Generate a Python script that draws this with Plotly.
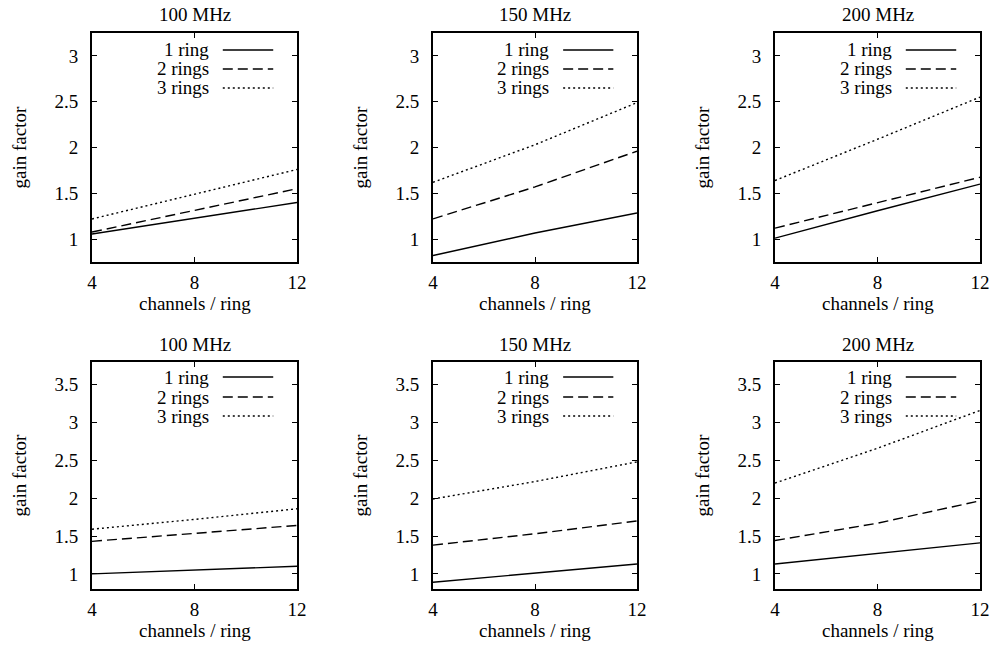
import plotly.graph_objects as go

channels = [4, 8, 12]
freq_titles = ["100 MHz", "150 MHz", "200 MHz"]
series_names = ["1 ring", "2 rings", "3 rings"]

# top row
top_100 = {"1 ring": [1.055, 1.23, 1.40], "2 rings": [1.077, 1.31, 1.55], "3 rings": [1.22, 1.49, 1.76]}
top_150 = {"1 ring": [0.82, 1.066, 1.285], "2 rings": [1.22, 1.57, 1.96], "3 rings": [1.62, 2.03, 2.49]}
top_200 = {"1 ring": [1.01, 1.31, 1.60], "2 rings": [1.12, 1.40, 1.675], "3 rings": [1.64, 2.09, 2.55]}
# bottom row
bot_100 = {"1 ring": [1.00, 1.05, 1.10], "2 rings": [1.43, 1.53, 1.64], "3 rings": [1.59, 1.72, 1.86]}
bot_150 = {"1 ring": [0.89, 1.01, 1.13], "2 rings": [1.38, 1.53, 1.70], "3 rings": [1.99, 2.22, 2.48]}
bot_200 = {"1 ring": [1.13, 1.27, 1.41], "2 rings": [1.44, 1.67, 1.965], "3 rings": [2.20, 2.66, 3.16]}

panels = [top_100, top_150, top_200, bot_100, bot_150, bot_200]
y_ranges = [[0.75, 3.25]] * 3 + [[0.8, 3.8]] * 3
y_ticks = [[1, 1.5, 2, 2.5, 3]] * 3 + [[1, 1.5, 2, 2.5, 3, 3.5]] * 3

W, H = 995, 645
col_px = [(92, 297), (433, 637), (775, 980)]
row_px = [(33, 262), (362, 589)]

dashes = {"1 ring": "solid", "2 rings": "10px,5px", "3 rings": "2px,3px"}
FONT = "Liberation Serif, Times New Roman, Times, serif"
FS = 19
LW = 1.4
fig = go.Figure()
layout = {}
annotations = []
shapes = []

for i, pdata in enumerate(panels):
    r, c = divmod(i, 3)
    n = i + 1
    xa = "x" if n == 1 else f"x{n}"
    ya = "y" if n == 1 else f"y{n}"
    for name in series_names:
        fig.add_trace(go.Scatter(x=channels, y=pdata[name], mode="lines", xaxis=xa, yaxis=ya,
                                 line=dict(color="black", width=LW, dash=dashes[name]),
                                 showlegend=False, name=name))
    x0, x1 = col_px[c]
    y0, y1 = row_px[r]
    common = dict(showline=True, linecolor="black", linewidth=2, mirror="ticks",
                  ticks="inside", ticklen=5, tickwidth=1, tickcolor="black",
                  showgrid=False, zeroline=False, automargin=False,
                  tickfont=dict(family=FONT, size=FS, color="black"))
    layout["xaxis" if n == 1 else f"xaxis{n}"] = dict(
        domain=[x0 / W, x1 / W], anchor=ya, range=[4, 12], tickvals=[4, 8, 12],
        ticklabelstandoff=2, **common)
    layout["yaxis" if n == 1 else f"yaxis{n}"] = dict(
        domain=[1 - y1 / H, 1 - y0 / H], anchor=xa, range=y_ranges[i], tickvals=y_ticks[i],
        ticklabelstandoff=8, **common)
    # panel title
    annotations.append(dict(text=freq_titles[c], xref=f"{xa} domain", yref=f"{ya} domain",
                            x=0.5, y=1, yanchor="middle", yshift=18, showarrow=False,
                            font=dict(family=FONT, size=FS, color="black")))
    # axis titles
    annotations.append(dict(text="channels / ring", xref=f"{xa} domain", yref=f"{ya} domain",
                            x=0.5, y=0, yanchor="middle", yshift=-41, showarrow=False,
                            font=dict(family=FONT, size=FS, color="black")))
    annotations.append(dict(text="gain factor", xref=f"{xa} domain", yref=f"{ya} domain",
                            x=0, y=0.5, xanchor="center", yanchor="middle", xshift=-73,
                            textangle=-90, showarrow=False,
                            font=dict(family=FONT, size=FS, color="black")))
    ph = y1 - y0
    offs = [17, 36, 55] if r == 0 else [15, 35, 54]
    for k, name in enumerate(series_names):
        yy = 1 - offs[k] / ph
        annotations.append(dict(text=name, xref=f"{xa} domain", yref=f"{ya} domain",
                                x=0.58, y=yy, xanchor="right", yanchor="middle", showarrow=False,
                                font=dict(family=FONT, size=FS, color="black")))
        shapes.append(dict(type="line", xref=f"{xa} domain", yref=f"{ya} domain",
                           x0=0.638, x1=0.884, y0=yy, y1=yy,
                           line=dict(color="black", width=LW, dash=dashes[name])))

fig.update_layout(width=W, height=H, margin=dict(l=0, r=0, t=0, b=0, autoexpand=False),
                  paper_bgcolor="white", plot_bgcolor="white", template="none",
                  font=dict(family=FONT, size=FS, color="black"),
                  annotations=annotations, shapes=shapes, **layout)

page_css = ("document.documentElement.style.margin='0';document.body.style.margin='0';"
            "document.documentElement.style.overflow='hidden';document.body.style.overflow='hidden';")
fig.write_html("out.html", post_script=page_css, config={"displayModeBar": False})
